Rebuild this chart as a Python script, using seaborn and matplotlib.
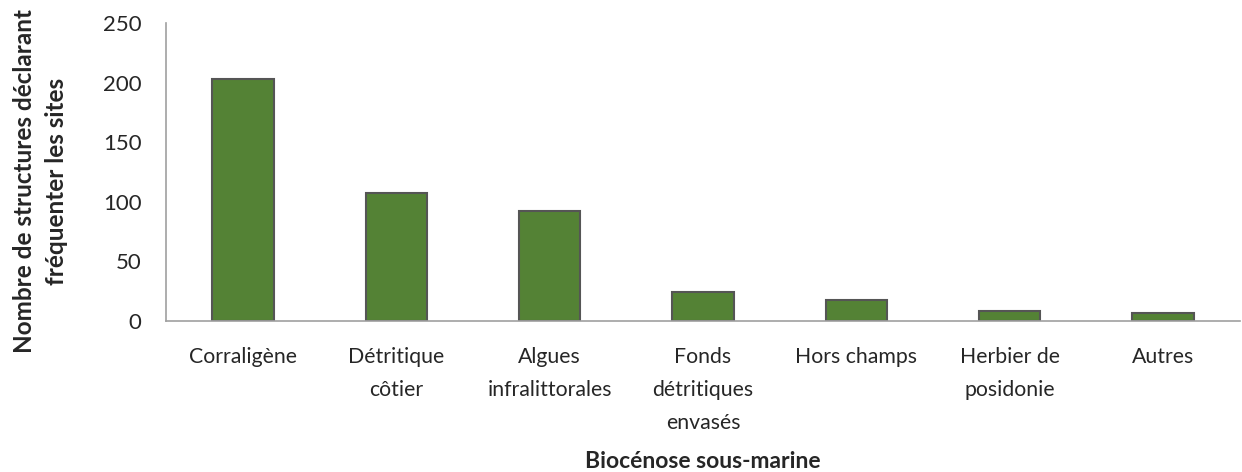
import matplotlib
matplotlib.use("Agg")
import matplotlib.pyplot as plt
import numpy as np
import pandas as pd
import seaborn as sns

categories = [
    "Corraligène",
    "Détritique\ncôtier",
    "Algues\ninfralittorales",
    "Fonds\ndétritiques\nenvasés",
    "Hors champs",
    "Herbier de\nposidonie",
    "Autres",
]
counts = [203, 107, 92, 24, 18, 8, 7]

df = pd.DataFrame({"biocenose": categories, "n": counts})

sns.set_theme(style="white")
plt.rcParams["font.family"] = ["Lato", "DejaVu Sans"]

fig = plt.figure(figsize=(12.42, 4.72), dpi=100)
ax = fig.add_axes([0.134, 0.32, 0.864, 0.631])

sns.barplot(data=df, x="biocenose", y="n", color="#548235", saturation=1,
            width=0.4, edgecolor="#555555", linewidth=1.5, ax=ax)

ax.set_xlim(-0.5, len(categories) - 0.5)
ax.set_ylim(0, 250)
ax.set_yticks(np.arange(0, 251, 50))

ax.set_xticks(range(len(categories)))
ax.set_xticklabels(categories, fontsize=15.3, linespacing=1.8, va="top")
ax.set_xticks(np.arange(-0.5, len(categories), 1), minor=True)
ax.tick_params(axis="x", which="major", length=0, pad=19)
ax.tick_params(axis="x", which="minor", length=7, width=1, color="#A0A0A0", direction="out")
ax.tick_params(axis="y", length=7, width=1, color="#A0A0A0", direction="out",
               labelsize=16, pad=11)

for s in ["top", "right"]:
    ax.spines[s].set_visible(False)
for s in ["left", "bottom"]:
    ax.spines[s].set_color("#A0A0A0")
    ax.spines[s].set_linewidth(1.2)

ax.set_xlabel("Biocénose sous-marine", fontsize=16.5, fontweight="bold")
ax.xaxis.set_label_coords(0.5, -0.435)
ax.set_ylabel("Nombre de structures déclarant\nfréquenter les sites", fontsize=17.5,
              fontweight="bold", linespacing=1.45)
ax.yaxis.set_label_coords(-0.092, 0.47)

fig.savefig("out.png", dpi=100)
